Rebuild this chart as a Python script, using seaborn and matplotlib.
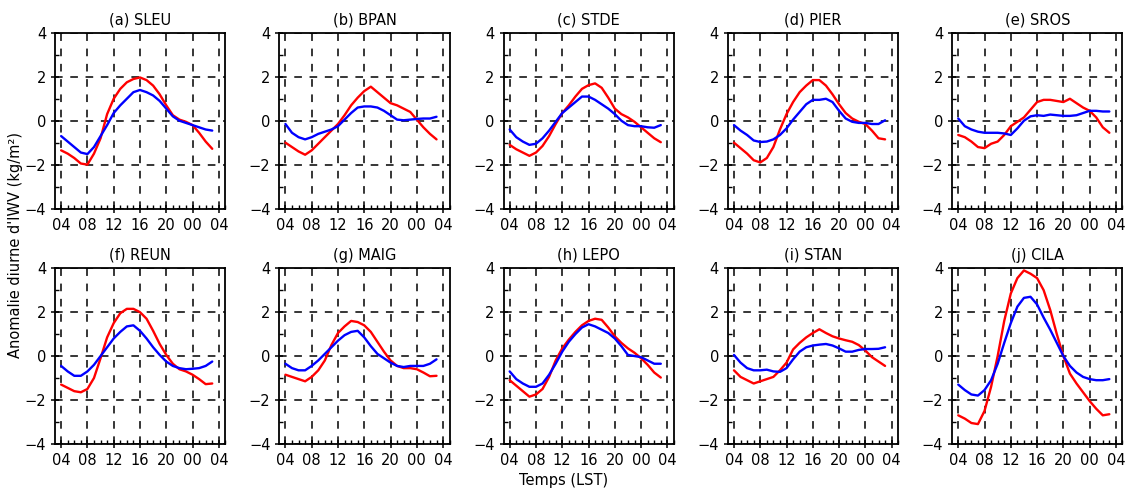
import numpy as np
import pandas as pd
import matplotlib
matplotlib.use("Agg")
import matplotlib.pyplot as plt
from matplotlib.ticker import MultipleLocator, FixedLocator
import seaborn as sns

hours = list(range(4, 28))
tick_pos = [4, 8, 12, 16, 20, 24, 28]
tick_labels = ["04", "08", "12", "16", "20", "00", "04"]
stations = ["(a) SLEU", "(b) BPAN", "(c) STDE", "(d) PIER", "(e) SROS",
            "(f) REUN", "(g) MAIG", "(h) LEPO", "(i) STAN", "(j) CILA"]

red_sleu = [-1.35, -1.5, -1.7, -1.95, -2.0, -1.5, -0.8, 0.3, 1.0, 1.45, 1.75, 1.9, 1.97, 1.85, 1.6, 1.2, 0.7, 0.25, 0.05, -0.05, -0.2, -0.55, -0.95, -1.28]
blue_sleu = [-0.7, -0.95, -1.2, -1.45, -1.52, -1.2, -0.7, -0.2, 0.35, 0.7, 1.0, 1.3, 1.4, 1.3, 1.15, 0.9, 0.55, 0.2, 0.0, -0.1, -0.2, -0.3, -0.4, -0.45]
red_bpan = [-1.0, -1.2, -1.4, -1.55, -1.35, -1.05, -0.75, -0.45, -0.15, 0.25, 0.7, 1.05, 1.35, 1.55, 1.3, 1.05, 0.8, 0.7, 0.55, 0.4, 0.05, -0.3, -0.6, -0.85]
blue_bpan = [-0.15, -0.55, -0.75, -0.85, -0.75, -0.6, -0.5, -0.4, -0.25, 0.05, 0.35, 0.6, 0.65, 0.65, 0.6, 0.45, 0.25, 0.05, 0.02, 0.05, 0.08, 0.1, 0.1, 0.18]
red_stde = [-1.1, -1.3, -1.45, -1.6, -1.45, -1.15, -0.7, -0.15, 0.35, 0.7, 1.1, 1.45, 1.62, 1.7, 1.5, 1.05, 0.55, 0.3, 0.15, -0.05, -0.3, -0.55, -0.8, -0.98]
blue_stde = [-0.4, -0.75, -0.95, -1.1, -1.05, -0.8, -0.45, -0.05, 0.35, 0.6, 0.85, 1.1, 1.1, 0.95, 0.75, 0.55, 0.3, 0.0, -0.2, -0.25, -0.25, -0.3, -0.32, -0.2]
red_pier = [-1.0, -1.25, -1.5, -1.8, -1.9, -1.7, -1.2, -0.4, 0.3, 0.85, 1.3, 1.6, 1.85, 1.85, 1.6, 1.2, 0.75, 0.35, 0.1, -0.05, -0.15, -0.45, -0.8, -0.85]
blue_pier = [-0.2, -0.45, -0.65, -0.9, -0.97, -0.95, -0.85, -0.65, -0.35, 0.05, 0.4, 0.75, 0.95, 0.95, 1.0, 0.85, 0.45, 0.1, -0.05, -0.1, -0.1, -0.15, -0.15, 0.02]
red_sros = [-0.65, -0.75, -0.95, -1.2, -1.25, -1.05, -0.95, -0.65, -0.25, -0.05, 0.15, 0.5, 0.85, 0.95, 0.95, 0.9, 0.85, 1.0, 0.8, 0.6, 0.45, 0.15, -0.3, -0.55]
blue_sros = [0.1, -0.25, -0.4, -0.5, -0.55, -0.55, -0.55, -0.58, -0.65, -0.35, 0.0, 0.2, 0.25, 0.22, 0.28, 0.25, 0.22, 0.22, 0.25, 0.35, 0.45, 0.45, 0.42, 0.42]
red_reun = [-1.3, -1.45, -1.6, -1.65, -1.5, -1.0, -0.1, 0.85, 1.5, 1.95, 2.15, 2.15, 2.0, 1.7, 1.15, 0.55, 0.05, -0.35, -0.6, -0.7, -0.85, -1.05, -1.28, -1.25]
blue_reun = [-0.45, -0.7, -0.9, -0.9, -0.7, -0.4, 0.0, 0.4, 0.8, 1.1, 1.35, 1.4, 1.15, 0.8, 0.4, 0.05, -0.25, -0.45, -0.55, -0.6, -0.58, -0.55, -0.45, -0.25]
red_maig = [-0.85, -0.95, -1.05, -1.15, -0.95, -0.65, -0.2, 0.5, 1.05, 1.35, 1.6, 1.55, 1.4, 1.1, 0.65, 0.2, -0.2, -0.45, -0.55, -0.55, -0.6, -0.75, -0.92, -0.9]
blue_maig = [-0.35, -0.55, -0.65, -0.65, -0.45, -0.2, 0.1, 0.4, 0.7, 0.95, 1.1, 1.15, 0.85, 0.45, 0.1, -0.1, -0.3, -0.45, -0.5, -0.45, -0.45, -0.45, -0.35, -0.15]
red_lepo = [-1.1, -1.35, -1.6, -1.85, -1.75, -1.5, -0.95, -0.2, 0.35, 0.75, 1.1, 1.4, 1.6, 1.7, 1.65, 1.3, 0.9, 0.6, 0.35, 0.15, -0.1, -0.4, -0.75, -0.98]
blue_lepo = [-0.7, -1.05, -1.25, -1.4, -1.4, -1.25, -0.85, -0.35, 0.2, 0.65, 1.0, 1.3, 1.45, 1.35, 1.2, 1.05, 0.8, 0.45, 0.05, 0.0, -0.05, -0.2, -0.35, -0.35]
red_stan = [-0.65, -0.95, -1.1, -1.25, -1.15, -1.05, -0.95, -0.65, -0.3, 0.3, 0.6, 0.85, 1.05, 1.22, 1.05, 0.9, 0.8, 0.72, 0.65, 0.5, 0.25, -0.05, -0.25, -0.45]
blue_stan = [0.05, -0.3, -0.55, -0.65, -0.65, -0.62, -0.7, -0.72, -0.55, -0.15, 0.2, 0.4, 0.48, 0.52, 0.55, 0.48, 0.35, 0.2, 0.2, 0.28, 0.32, 0.32, 0.33, 0.4]
red_cila = [-2.7, -2.85, -3.05, -3.1, -2.5, -1.4, 0.0, 1.6, 2.85, 3.55, 3.9, 3.75, 3.55, 3.0, 2.1, 1.0, 0.0, -0.8, -1.25, -1.65, -2.05, -2.4, -2.7, -2.65]
blue_cila = [-1.3, -1.55, -1.75, -1.8, -1.55, -1.1, -0.35, 0.6, 1.5, 2.25, 2.65, 2.7, 2.35, 1.75, 1.2, 0.6, 0.0, -0.45, -0.75, -0.95, -1.05, -1.1, -1.1, -1.05]

reds = [red_sleu, red_bpan, red_stde, red_pier, red_sros,
        red_reun, red_maig, red_lepo, red_stan, red_cila]
blues = [blue_sleu, blue_bpan, blue_stde, blue_pier, blue_sros,
         blue_reun, blue_maig, blue_lepo, blue_stan, blue_cila]

sns.set_theme(style="white")
plt.rcParams['font.family'] = ['DejaVu Sans']
plt.rcParams['font.size'] = 10.5
for k in ['text.color', 'axes.labelcolor', 'xtick.color', 'ytick.color']:
    plt.rcParams[k] = 'black'

fig, axes = plt.subplots(2, 5, figsize=(11.27, 4.91), dpi=100)
fig.subplots_adjust(left=0.049, right=0.996, top=0.933, bottom=0.096,
                    wspace=0.318, hspace=0.34)

for i, ax in enumerate(axes.flat):
    df = pd.DataFrame({"h": hours, "red": reds[i], "blue": blues[i]})
    sns.lineplot(data=df, x="h", y="red", ax=ax, color="red", lw=1.7)
    sns.lineplot(data=df, x="h", y="blue", ax=ax, color="blue", lw=1.7)
    ax.set_xlim(3.1, 29.0)
    ax.set_ylim(-4, 4)
    ax.xaxis.set_major_locator(FixedLocator(tick_pos))
    ax.set_xticklabels(tick_labels)
    ax.xaxis.set_minor_locator(MultipleLocator(1))
    ax.yaxis.set_major_locator(MultipleLocator(2))
    ax.yaxis.set_minor_locator(MultipleLocator(1))
    ax.grid(True, which="major", color="black", linestyle=(0, (5, 5)), lw=1.1)
    ax.tick_params(which="major", direction="inout", length=6, width=1.1,
                   labelsize=10.5, colors="black", bottom=True, left=True)
    ax.tick_params(which="minor", direction="in", length=3, width=1,
                   colors="black", bottom=True, left=True)
    for s in ax.spines.values():
        s.set_color("black")
        s.set_linewidth(1.3)
    ax.set_xlabel("")
    ax.set_ylabel("")
    ax.set_title(stations[i], fontsize=10.5, pad=6, color="black")

fig.text(0.014, 0.5, "Anomalie diurne d'IWV (kg/m²)", rotation=90,
         va="center", ha="center", fontsize=10.5, color="black")
fig.text(0.5, 0.022, "Temps (LST)", ha="center", va="center", fontsize=10.5,
         color="black")

fig.savefig("out.png", dpi=100)
